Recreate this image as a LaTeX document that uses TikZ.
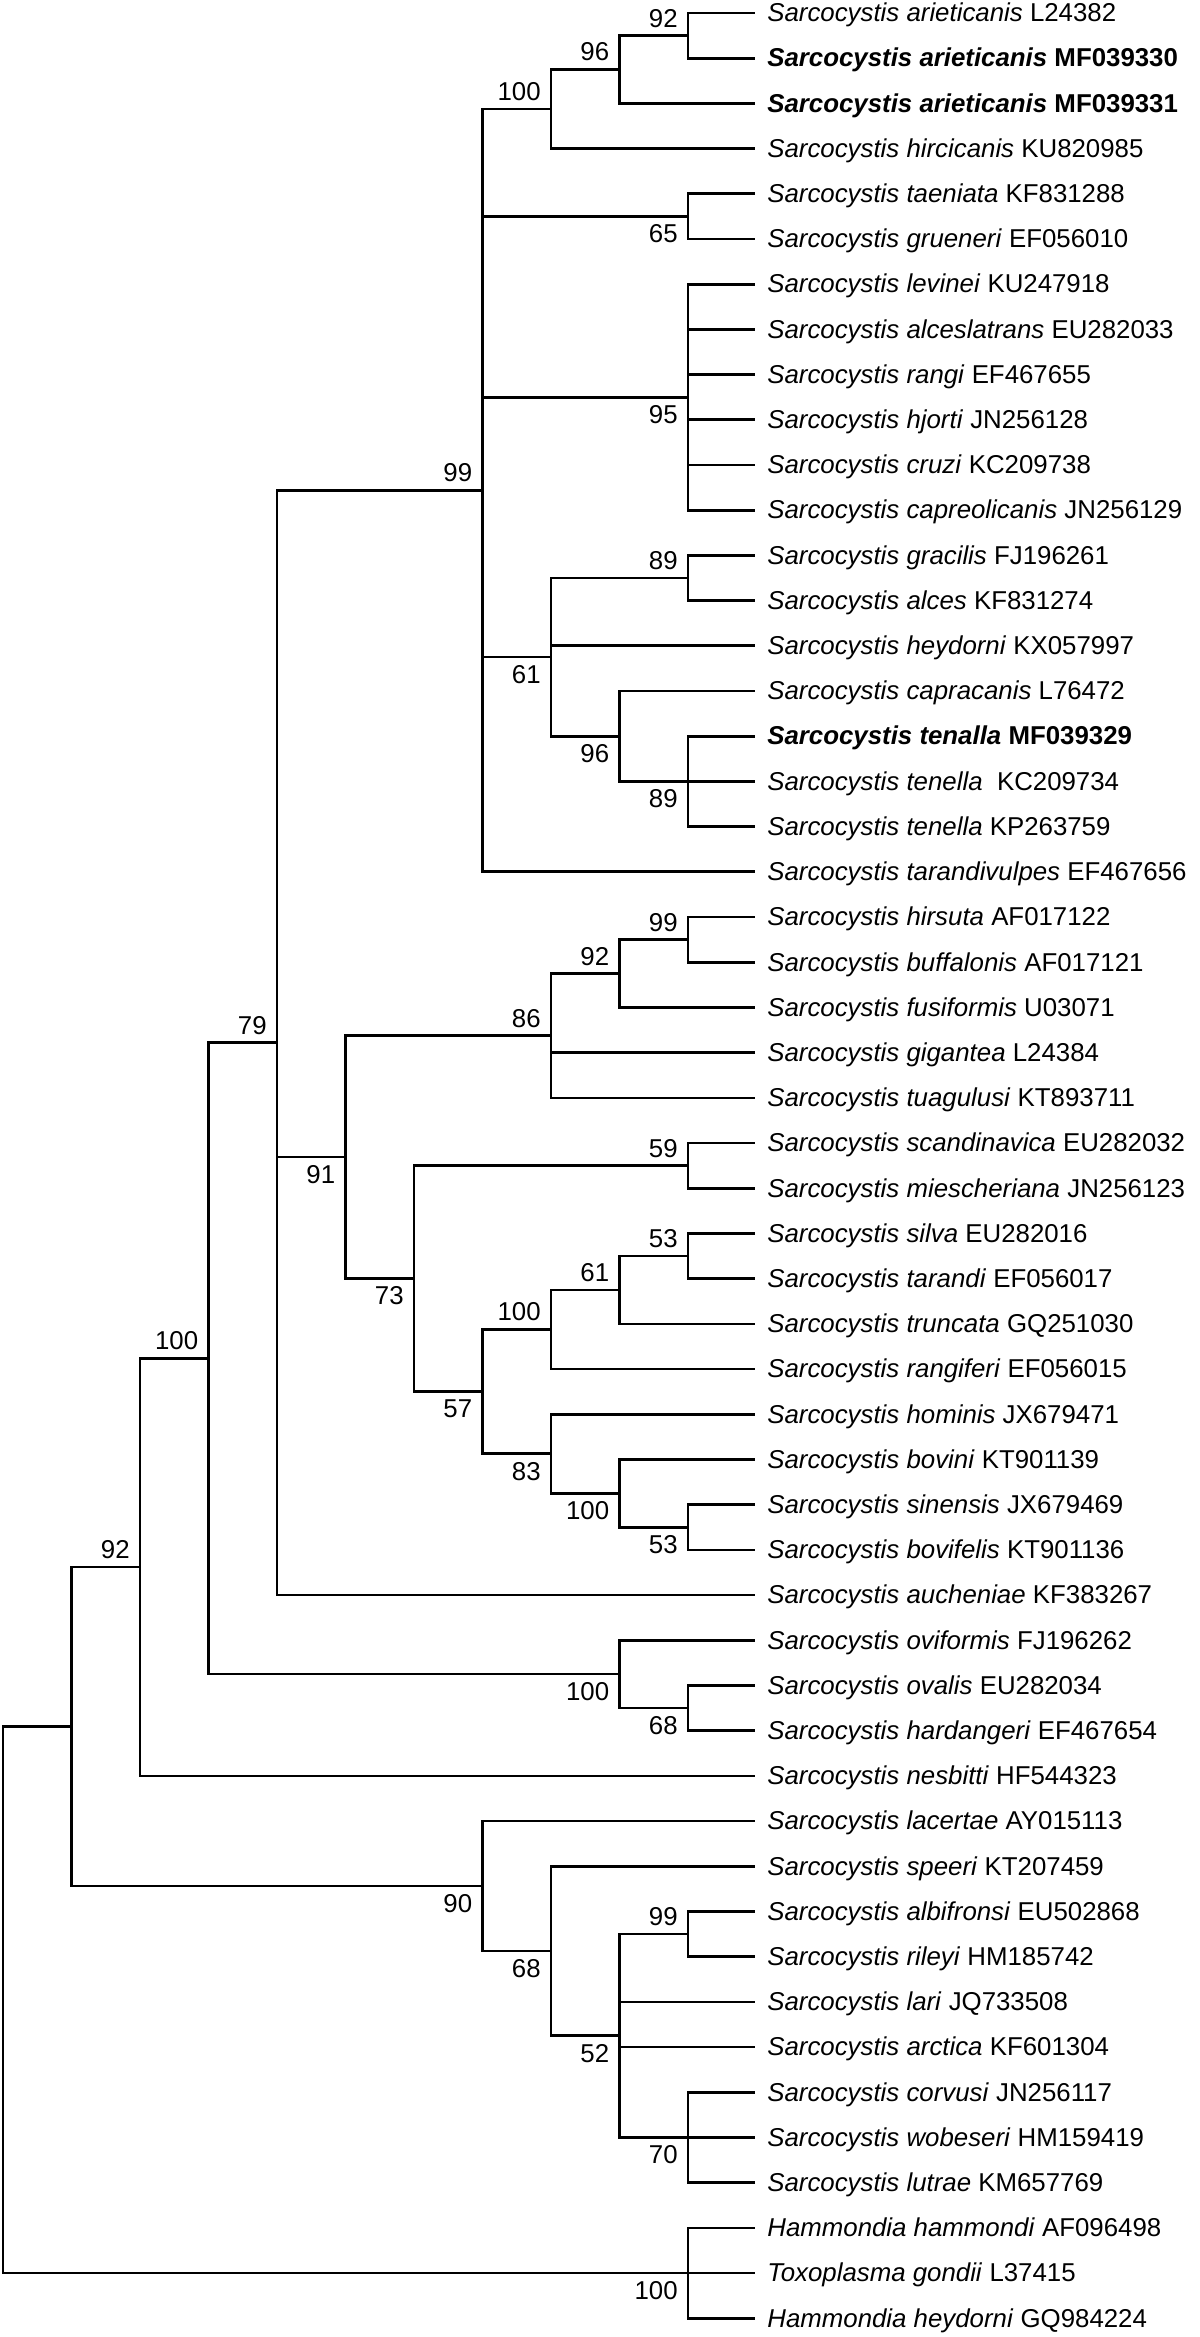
\documentclass[tikz,border=0pt]{standalone}
\usepackage{fontspec}
\setmainfont{Liberation Sans}
\usetikzlibrary{positioning}
\begin{document}
\begin{tikzpicture}[x=0.02cm,y=-0.02cm]
	
		\tikzset{
		  branch/.style={
			line width=1.5pt,
			color=black,
		  },
		  leaf/.style={
			anchor=west,
			inner xsep=0.24cm,
			inner ysep=0pt,
			text height=10pt,
			text depth=0pt,
			font=\fontsize{14.7}{17}\selectfont,
		  },
		  bsup/.style={
			inner sep=0pt,
			above left=4.5pt and 5.7pt of #1,
			font=\fontsize{14.7}{17}\selectfont,
		  },
		  bsdn/.style={
			inner sep=0pt,
			below left=4.5pt and 5.7pt of #1,
			font=\fontsize{14.7}{17}\selectfont,
		  },
		}
		\useasboundingbox (0,0) rectangle (1200,2337);
		\node[leaf] (l1) at (755,13) {\textit{Sarcocystis arieticanis} L24382};
		\node[leaf] (l2) at (755,58.2) {\textbf{\textit{Sarcocystis arieticanis} MF039330}};
		\node[leaf] (l3) at (755,103.4) {\textbf{\textit{Sarcocystis arieticanis} MF039331}};
		\node[leaf] (l4) at (755,148.6) {\textit{Sarcocystis hircicanis} KU820985};
		\node[leaf] (l5) at (755,193.8) {\textit{Sarcocystis taeniata} KF831288};
		\node[leaf] (l6) at (755,239) {\textit{Sarcocystis grueneri} EF056010};
		\node[leaf] (l7) at (755,284.2) {\textit{Sarcocystis levinei} KU247918};
		\node[leaf] (l8) at (755,329.4) {\textit{Sarcocystis alceslatrans} EU282033};
		\node[leaf] (l9) at (755,374.6) {\textit{Sarcocystis rangi} EF467655};
		\node[leaf] (l10) at (755,419.8) {\textit{Sarcocystis hjorti} JN256128};
		\node[leaf] (l11) at (755,465) {\textit{Sarcocystis cruzi} KC209738};
		\node[leaf] (l12) at (755,510.2) {\textit{Sarcocystis capreolicanis} JN256129};
		\node[leaf] (l13) at (755,555.4) {\textit{Sarcocystis gracilis} FJ196261};
		\node[leaf] (l14) at (755,600.6) {\textit{Sarcocystis alces} KF831274};
		\node[leaf] (l15) at (755,645.8) {\textit{Sarcocystis heydorni} KX057997};
		\node[leaf] (l16) at (755,691) {\textit{Sarcocystis capracanis} L76472};
		\node[leaf] (l17) at (755,736.2) {\textbf{\textit{Sarcocystis tenalla} MF039329}};
		\node[leaf] (l18) at (755,781.4) {\textit{Sarcocystis tenella}\ \ KC209734};
		\node[leaf] (l19) at (755,826.6) {\textit{Sarcocystis tenella} KP263759};
		\node[leaf] (l20) at (755,871.8) {\textit{Sarcocystis tarandivulpes} EF467656};
		\node[leaf] (l21) at (755,917) {\textit{Sarcocystis hirsuta} AF017122};
		\node[leaf] (l22) at (755,962.2) {\textit{Sarcocystis buffalonis} AF017121};
		\node[leaf] (l23) at (755,1007.4) {\textit{Sarcocystis fusiformis} U03071};
		\node[leaf] (l24) at (755,1052.6) {\textit{Sarcocystis gigantea} L24384};
		\node[leaf] (l25) at (755,1097.8) {\textit{Sarcocystis tuagulusi} KT893711};
		\node[leaf] (l26) at (755,1143) {\textit{Sarcocystis scandinavica} EU282032};
		\node[leaf] (l27) at (755,1188.2) {\textit{Sarcocystis miescheriana} JN256123};
		\node[leaf] (l28) at (755,1233.4) {\textit{Sarcocystis silva} EU282016};
		\node[leaf] (l29) at (755,1278.6) {\textit{Sarcocystis tarandi} EF056017};
		\node[leaf] (l30) at (755,1323.8) {\textit{Sarcocystis truncata} GQ251030};
		\node[leaf] (l31) at (755,1369) {\textit{Sarcocystis rangiferi} EF056015};
		\node[leaf] (l32) at (755,1414.2) {\textit{Sarcocystis hominis} JX679471};
		\node[leaf] (l33) at (755,1459.4) {\textit{Sarcocystis bovini} KT901139};
		\node[leaf] (l34) at (755,1504.6) {\textit{Sarcocystis sinensis} JX679469};
		\node[leaf] (l35) at (755,1549.8) {\textit{Sarcocystis bovifelis} KT901136};
		\node[leaf] (l36) at (755,1595) {\textit{Sarcocystis aucheniae} KF383267};
		\node[leaf] (l37) at (755,1640.2) {\textit{Sarcocystis oviformis} FJ196262};
		\node[leaf] (l38) at (755,1685.4) {\textit{Sarcocystis ovalis} EU282034};
		\node[leaf] (l39) at (755,1730.6) {\textit{Sarcocystis hardangeri} EF467654};
		\node[leaf] (l40) at (755,1775.8) {\textit{Sarcocystis nesbitti} HF544323};
		\node[leaf] (l41) at (755,1821) {\textit{Sarcocystis lacertae} AY015113};
		\node[leaf] (l42) at (755,1866.2) {\textit{Sarcocystis speeri} KT207459};
		\node[leaf] (l43) at (755,1911.4) {\textit{Sarcocystis albifronsi} EU502868};
		\node[leaf] (l44) at (755,1956.6) {\textit{Sarcocystis rileyi} HM185742};
		\node[leaf] (l45) at (755,2001.8) {\textit{Sarcocystis lari} JQ733508};
		\node[leaf] (l46) at (755,2047) {\textit{Sarcocystis arctica} KF601304};
		\node[leaf] (l47) at (755,2092.2) {\textit{Sarcocystis corvusi} JN256117};
		\node[leaf] (l48) at (755,2137.4) {\textit{Sarcocystis wobeseri} HM159419};
		\node[leaf] (l49) at (755,2182.6) {\textit{Sarcocystis lutrae} KM657769};
		\node[leaf] (l50) at (755,2227.8) {\textit{Hammondia hammondi} AF096498};
		\node[leaf] (l51) at (755,2273) {\textit{Toxoplasma gondii} L37415};
		\node[leaf] (l52) at (755,2318.2) {\textit{Hammondia heydorni} GQ984224};
		
		\coordinate (root) at (3,1999.8);
		\coordinate (nA) at (71.5,1726.5);
		\coordinate (n92c) at (140,1567.1);
		\coordinate (n100e) at (208.5,1358.4);
		\coordinate (n79) at (277,1042.7);
		\coordinate (n91) at (345.5,1157.1);
		\coordinate (n73) at (414,1278.6);
		\coordinate (n99a) at (482.5,490.4);
		\coordinate (n57) at (482.5,1391.6);
		\coordinate (n90) at (482.5,1886);
		\coordinate (n100a) at (551,109.05);
		\coordinate (n61a) at (551,657.1);
		\coordinate (n86) at (551,1035.65);
		\coordinate (n100b) at (551,1329.45);
		\coordinate (n83) at (551,1453.75);
		\coordinate (n68b) at (551,1951);
		\coordinate (n96a) at (619.5,69.5);
		\coordinate (n96b) at (619.5,736.2);
		\coordinate (n92b) at (619.5,973.5);
		\coordinate (n61b) at (619.5,1289.9);
		\coordinate (n100c) at (619.5,1493.3);
		\coordinate (n100d) at (619.5,1674.1);
		\coordinate (n52) at (619.5,2035.7);
		\coordinate (n92a) at (688,35.6);
		\coordinate (n65) at (688,216.4);
		\coordinate (n95) at (688,397.2);
		\coordinate (n89a) at (688,578);
		\coordinate (n89b) at (688,781.4);
		\coordinate (n99b) at (688,939.6);
		\coordinate (n59) at (688,1165.6);
		\coordinate (n53a) at (688,1256);
		\coordinate (n53b) at (688,1527.2);
		\coordinate (n68a) at (688,1708);
		\coordinate (n99c) at (688,1934);
		\coordinate (n70) at (688,2137.4);
		\coordinate (n100f) at (688,2273);
		
		\draw[branch] (root) |- (nA) (root) |- (n100f);
		\draw[branch] (nA) |- (n92c) (nA) |- (n90);
		\draw[branch] (n92c) |- (n100e) (n92c) |- (l40.west);
		\draw[branch] (n100e) |- (n79) (n100e) |- (n100d);
		\draw[branch] (n79) |- (n99a) (n79) |- (n91) (n79) |- (l36.west);
		\draw[branch] (n91) |- (n86) (n91) |- (n73);
		\draw[branch] (n73) |- (n59) (n73) |- (n57);
		\draw[branch] (n99a) |- (n100a) (n99a) |- (n65) (n99a) |- (n95) (n99a) |- (n61a) (n99a) |- (l20.west);
		\draw[branch] (n57) |- (n100b) (n57) |- (n83);
		\draw[branch] (n90) |- (l41.west) (n90) |- (n68b);
		\draw[branch] (n100a) |- (n96a) (n100a) |- (l4.west);
		\draw[branch] (n61a) |- (n89a) (n61a) |- (l15.west) (n61a) |- (n96b);
		\draw[branch] (n86) |- (n92b) (n86) |- (l24.west) (n86) |- (l25.west);
		\draw[branch] (n100b) |- (n61b) (n100b) |- (l31.west);
		\draw[branch] (n83) |- (l32.west) (n83) |- (n100c);
		\draw[branch] (n68b) |- (l42.west) (n68b) |- (n52);
		\draw[branch] (n96a) |- (n92a) (n96a) |- (l3.west);
		\draw[branch] (n96b) |- (l16.west) (n96b) |- (n89b);
		\draw[branch] (n92b) |- (n99b) (n92b) |- (l23.west);
		\draw[branch] (n61b) |- (n53a) (n61b) |- (l30.west);
		\draw[branch] (n100c) |- (l33.west) (n100c) |- (n53b);
		\draw[branch] (n100d) |- (l37.west) (n100d) |- (n68a);
		\draw[branch] (n52) |- (n99c) (n52) |- (l45.west) (n52) |- (l46.west) (n52) |- (n70);
		\draw[branch] (n92a) |- (l1.west) (n92a) |- (l2.west);
		\draw[branch] (n65) |- (l5.west) (n65) |- (l6.west);
		\draw[branch] (n95) |- (l7.west) (n95) |- (l8.west) (n95) |- (l9.west) (n95) |- (l10.west) (n95) |- (l11.west) (n95) |- (l12.west);
		\draw[branch] (n89a) |- (l13.west) (n89a) |- (l14.west);
		\draw[branch] (n89b) |- (l17.west) (n89b) |- (l18.west) (n89b) |- (l19.west);
		\draw[branch] (n99b) |- (l21.west) (n99b) |- (l22.west);
		\draw[branch] (n59) |- (l26.west) (n59) |- (l27.west);
		\draw[branch] (n53a) |- (l28.west) (n53a) |- (l29.west);
		\draw[branch] (n53b) |- (l34.west) (n53b) |- (l35.west);
		\draw[branch] (n68a) |- (l38.west) (n68a) |- (l39.west);
		\draw[branch] (n99c) |- (l43.west) (n99c) |- (l44.west);
		\draw[branch] (n70) |- (l47.west) (n70) |- (l48.west) (n70) |- (l49.west);
		\draw[branch] (n100f) |- (l50.west) (n100f) |- (l51.west) (n100f) |- (l52.west);
		
		\node[bsup=n92a] (b92a) {92};
		\node[bsup=n96a] (b96a) {96};
		\node[bsup=n100a] (b100a) {100};
		\node[bsup=n89a] (b89a) {89};
		\node[bsup=n99a] (b99a) {99};
		\node[bsup=n99b] (b99b) {99};
		\node[bsup=n92b] (b92b) {92};
		\node[bsup=n86] (b86) {86};
		\node[bsup=n59] (b59) {59};
		\node[bsup=n53a] (b53a) {53};
		\node[bsup=n61b] (b61b) {61};
		\node[bsup=n100b] (b100b) {100};
		\node[bsup=n79] (b79) {79};
		\node[bsup=n100e] (b100e) {100};
		\node[bsup=n92c] (b92c) {92};
		\node[bsup=n99c] (b99c) {99};
		\node[bsdn=n65] (b65) {65};
		\node[bsdn=n95] (b95) {95};
		\node[bsdn=n61a] (b61a) {61};
		\node[bsdn=n96b] (b96b) {96};
		\node[bsdn=n89b] (b89b) {89};
		\node[bsdn=n57] (b57) {57};
		\node[bsdn=n73] (b73) {73};
		\node[bsdn=n91] (b91) {91};
		\node[bsdn=n83] (b83) {83};
		\node[bsdn=n100c] (b100c) {100};
		\node[bsdn=n53b] (b53b) {53};
		\node[bsdn=n100d] (b100d) {100};
		\node[bsdn=n68a] (b68a) {68};
		\node[bsdn=n90] (b90) {90};
		\node[bsdn=n68b] (b68b) {68};
		\node[bsdn=n52] (b52) {52};
		\node[bsdn=n70] (b70) {70};
		\node[bsdn=n100f] (b100f) {100};
	
	\end{tikzpicture}
\end{document}
